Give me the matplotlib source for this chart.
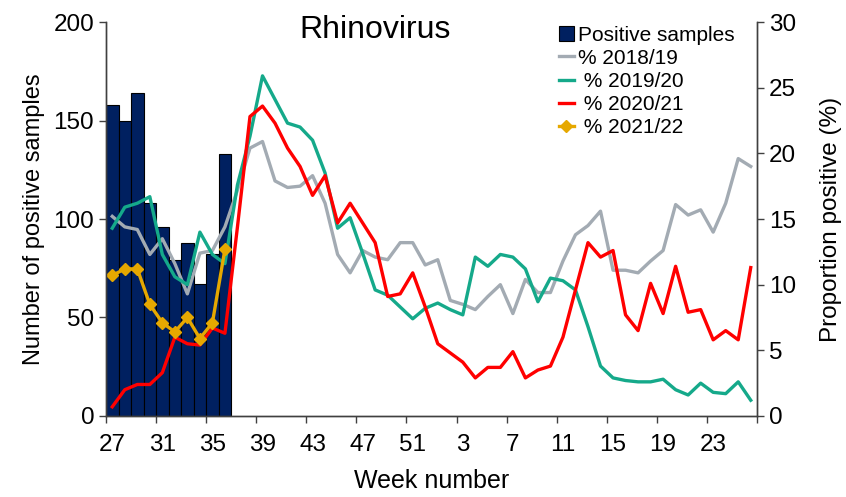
import numpy as np
import matplotlib.pyplot as plt
from matplotlib.ticker import FixedLocator

plt.rcParams['font.family'] = ['Liberation Sans', 'DejaVu Sans']

# week 27 of one year through week 26 of the next
weeks = list(range(27, 53)) + list(range(1, 27))

positive_samples = [158, 150, 164, 108, 96, 79, 88, 67, 82, 133]

pct_2018_19 = [15.2, 14.4, 14.2, 12.3, 13.5, 11.6, 9.3, 12.4, 12.6, 14.4,
               17.2, 20.4, 20.9, 17.9, 17.4, 17.5, 18.3, 16.2, 12.3, 10.9,
               12.6, 12.1, 11.9, 13.2, 13.2, 11.5, 11.9, 8.8, 8.5, 8.1,
               9.1, 10.0, 7.8, 10.4, 9.4, 9.4, 11.8, 13.8, 14.5, 15.6,
               11.1, 11.1, 10.9, 11.8, 12.6, 16.1, 15.3, 15.7, 14.0, 16.2,
               19.6, 19.0]

pct_2019_20 = [14.3, 15.9, 16.2, 16.7, 12.3, 10.6, 10.0, 14.0, 12.3, 11.6,
               17.6, 21.3, 25.9, 24.1, 22.3, 22.0, 21.0, 18.5, 14.3, 15.1,
               12.4, 9.6, 9.2, 8.3, 7.4, 8.2, 8.6, 8.1, 7.7, 12.1,
               11.4, 12.3, 12.1, 11.2, 8.7, 10.5, 10.3, 9.6, 6.8, 3.8,
               2.9, 2.7, 2.6, 2.6, 2.8, 2.0, 1.6, 2.5, 1.8, 1.7,
               2.6, 1.2]

pct_2020_21 = [0.7, 2.0, 2.4, 2.4, 3.3, 6.0, 5.5, 5.4, 6.7, 6.3,
               14.4, 22.8, 23.6, 22.3, 20.4, 19.0, 16.8, 18.3, 14.7, 16.2,
               14.7, 13.2, 9.1, 9.3, 10.9, 8.3, 5.5, 4.8, 4.1, 2.9,
               3.7, 3.7, 4.9, 2.9, 3.5, 3.8, 6.0, 9.6, 13.2, 12.1,
               12.6, 7.7, 6.5, 10.1, 7.8, 11.4, 7.9, 8.1, 5.8, 6.5,
               5.8, 11.3]

pct_2021_22 = [10.7, 11.2, 11.2, 8.5, 7.1, 6.4, 7.5, 5.9, 7.1, 12.7]

x = np.arange(len(weeks))

fig, ax = plt.subplots(figsize=(8.46, 4.97), dpi=100)
fig.subplots_adjust(left=0.1253, right=0.8948, bottom=0.163, top=0.9557)

ax.bar(x[:len(positive_samples)], positive_samples, width=1.0,
       color='#002060', edgecolor='black', linewidth=0.8,
       label='Positive samples')

ax2 = ax.twinx()
lw = 2.4
ax2.plot(x, pct_2018_19, color='#A3ABB3', lw=lw, label='% 2018/19')
ax2.plot(x, pct_2019_20, color='#15A98A', lw=lw, label=' % 2019/20')
ax2.plot(x, pct_2020_21, color='#FF0000', lw=lw, label=' % 2020/21')
ax2.plot(x[:len(pct_2021_22)], pct_2021_22, color='#E6A800', lw=lw,
         marker='D', markersize=6.5, label=' % 2021/22')

ax.set_xlim(-0.5, len(weeks) - 0.5)
ax.set_ylim(0, 200)
ax2.set_ylim(0, 30)
ax.set_yticks(range(0, 201, 50))
ax2.set_yticks(range(0, 31, 5))

# labels every 4 weeks, tick marks on category boundaries
ax.set_xticks(x[::4])
ax.set_xticklabels([str(w) for w in weeks[::4]])
ax.xaxis.set_minor_locator(FixedLocator(np.arange(-0.5, len(weeks), 4)))
ax.tick_params(axis='x', which='major', length=0, labelsize=17.5, pad=13)
ax.tick_params(axis='x', which='minor', length=5, width=1, color='#404040')
ax.tick_params(axis='y', length=5, width=1, color='#404040', labelsize=17.5)
ax2.tick_params(axis='y', length=5, width=1, color='#404040', labelsize=17.5)

for a in (ax, ax2):
    a.spines['top'].set_visible(False)
    for s in ('left', 'right', 'bottom'):
        a.spines[s].set_color('#404040')
        a.spines[s].set_linewidth(1)

ax.set_xlabel('Week number', fontsize=18, labelpad=9)
ax.set_ylabel('Number of positive samples', fontsize=17, labelpad=6)
ax2.set_ylabel('Proportion positive (%)', fontsize=17.5, labelpad=17)

ax.text(0.413, 0.98, 'Rhinovirus', transform=ax.transAxes, fontsize=23,
        ha='center', va='center')

h1, l1 = ax.get_legend_handles_labels()
h2, l2 = ax2.get_legend_handles_labels()
ax2.legend(h1 + h2, l1 + l2, loc='upper left', bbox_to_anchor=(0.683, 1.012),
           frameon=False, fontsize=15, handlelength=0.7, handletextpad=0.2,
           labelspacing=0.2, borderaxespad=0)

fig.savefig('out.png', dpi=100)
